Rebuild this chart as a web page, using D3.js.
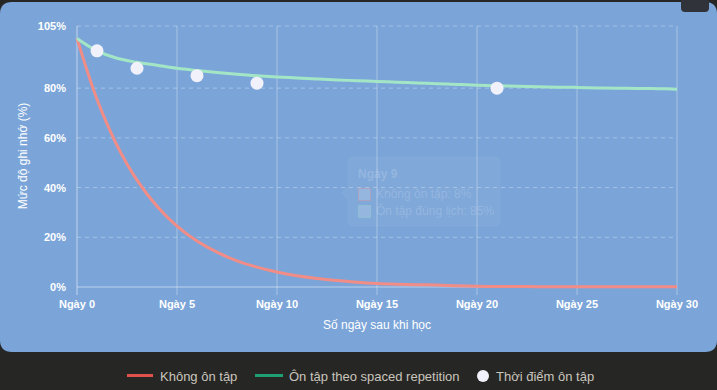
<!DOCTYPE html>
<html>
<head>
<meta charset="utf-8">
<script src="https://cdn.jsdelivr.net/npm/d3@7"></script>
<style>
  html, body { margin: 0; padding: 0; background: #262624; }
  svg { display: block; }
</style>
</head>
<body>
<svg id="chart" width="717" height="390"></svg>
<script>
// data
var days = d3.range(0, 31);
var noReview = [100, 75.5, 57, 43, 32.5, 24.5, 18.5, 14, 10.5, 8, 6, 4.5, 3.4, 2.6, 1.9, 1.4,
    1.1, 0.9, 0.8, 0.5, 0.3, 0.2, 0.2, 0.15, 0.1, 0.1, 0.1, 0.1, 0.1, 0.1, 0.1];
var spaced = [100, 95, 92, 90.4, 89.2, 88, 87.1, 86.3, 85.6, 85, 84.5, 84.1, 83.7, 83.3, 83,
    82.7, 82.4, 82.1, 81.8, 81.5, 81.2, 81, 80.8, 80.6, 80.4, 80.3, 80.1, 80, 79.9, 79.8, 79.6];
var reviewDays = [1, 3, 6, 9, 21];
var reviewValues = [95, 88, 85, 82, 80];
var xTicks = [0, 5, 10, 15, 20, 25, 30];
var yTicks = [0, 20, 40, 60, 80, 105];
var legendItems = ['Không ôn tập', 'Ôn tập theo spaced repetition', 'Thời điểm ôn tập'];

var svg = d3.select('#chart');
var font = 'Liberation Sans, Arial, Helvetica, sans-serif';

// panel
svg.append('rect')
    .attr('x', 0).attr('y', 0).attr('width', 717).attr('height', 390)
    .attr('fill', '#262624');
svg.append('path')
    .attr('d', 'M0,14 Q0,2 12,2 L705,2 Q717,2 717,14 L717,340 Q717,352 705,352 L12,352 Q0,352 0,340 Z')
    .attr('fill', '#7ba5d8');
svg.append('path')
    .attr('d', 'M681,0 L709,0 L709,8 Q709,12 705,12 L685,12 Q681,12 681,8 Z')
    .attr('fill', '#30343a');

var x = d3.scaleLinear().domain([0, 30]).range([77, 677]);
var y = d3.scaleLinear().domain([0, 105]).range([287, 26]);

var grid = svg.append('g');
grid.selectAll('line.v')
    .data(xTicks)
    .enter()
    .append('line')
    .attr('x1', d => x(d)).attr('x2', d => x(d))
    .attr('y1', y(105)).attr('y2', y(0) + 8)
    .attr('stroke', d => d === 0 ? 'rgba(255,255,255,0.55)' : 'rgba(255,255,255,0.35)')
    .attr('stroke-width', 1);
grid.selectAll('line.h')
    .data(yTicks)
    .enter()
    .append('line')
    .attr('x1', x(0)).attr('x2', x(30))
    .attr('y1', d => y(d)).attr('y2', d => y(d))
    .attr('stroke', d => d === 0 ? 'rgba(255,255,255,0.5)' : 'rgba(255,255,255,0.32)')
    .attr('stroke-dasharray', d => d === 0 ? null : '4,4')
    .attr('stroke-width', 1);

// tick labels
svg.append('g').selectAll('text')
    .data(yTicks)
    .enter()
    .append('text')
    .attr('x', 66)
    .attr('y', d => y(d) + 4)
    .attr('text-anchor', 'end')
    .attr('font-family', font)
    .attr('font-weight', 'bold')
    .attr('font-size', 11)
    .attr('fill', '#fff')
    .text(d => d + '%');
svg.append('g').selectAll('text')
    .data(xTicks)
    .enter()
    .append('text')
    .attr('x', d => x(d))
    .attr('y', 308)
    .attr('text-anchor', 'middle')
    .attr('font-family', font)
    .attr('font-weight', 'bold')
    .attr('font-size', 11)
    .attr('fill', '#fff')
    .text(d => 'Ngày ' + d);

// axis titles
svg.append('text')
    .attr('x', 377).attr('y', 329)
    .attr('text-anchor', 'middle')
    .attr('font-family', font)
    .attr('font-size', 12)
    .attr('fill', '#fff')
    .text('Số ngày sau khi học');
svg.append('text')
    .attr('transform', 'translate(27,156) rotate(-90)')
    .attr('text-anchor', 'middle')
    .attr('font-family', font)
    .attr('font-size', 12)
    .attr('fill', '#fff')
    .text('Mức độ ghi nhớ (%)');

// lines
var line = d3.line()
    .x((d, i) => x(days[i]))
    .y(d => y(d))
    .curve(d3.curveCatmullRom.alpha(0.5));

svg.append('path')
    .datum(noReview)
    .attr('d', line)
    .attr('fill', 'none')
    .attr('stroke', '#f28c86')
    .attr('stroke-width', 3);
svg.append('path')
    .datum(spaced)
    .attr('d', line)
    .attr('fill', 'none')
    .attr('stroke', '#a3e6c6')
    .attr('stroke-width', 3);

svg.append('g').selectAll('circle')
    .data(reviewDays)
    .enter()
    .append('circle')
    .attr('cx', d => x(d))
    .attr('cy', (d, i) => y(reviewValues[i]))
    .attr('r', 6.5)
    .attr('fill', '#f1f1fb');

// faded tooltip
var tip = svg.append('g').attr('opacity', 0.9);
tip.append('path')
    .attr('d', 'M354,157 L494,157 Q500,157 500,163 L500,220 Q500,226 494,226 L354,226 Q348,226 348,220 L348,199 L342,193 L348,187 L348,163 Q348,157 354,157 Z')
    .attr('fill', 'rgba(255,255,255,0.05)')
    .attr('stroke', 'rgba(255,255,255,0.06)');
tip.append('text')
    .attr('x', 358).attr('y', 178)
    .attr('font-family', font).attr('font-weight', 'bold').attr('font-size', 12)
    .attr('fill', 'rgba(255,255,255,0.2)')
    .text('Ngày ' + days[9]);
var tipRows = [
    ['Không ôn tập: ' + noReview[9] + '%', 'rgba(242,140,134,0.35)'],
    ['Ôn tập đúng lịch: ' + spaced[9] + '%', 'rgba(163,230,198,0.3)']
];
tipRows.forEach(function (r, i) {
    tip.append('rect')
        .attr('x', 358.5).attr('y', 188.5 + i * 17)
        .attr('width', 12).attr('height', 12)
        .attr('fill', 'rgba(255,255,255,0.18)')
        .attr('stroke', r[1]);
    tip.append('text')
        .attr('x', 376).attr('y', 198 + i * 17)
        .attr('font-family', font).attr('font-size', 12)
        .attr('fill', 'rgba(255,255,255,0.2)')
        .text(r[0]);
});

// legend
var lg = svg.append('g').attr('font-family', font).attr('font-size', 13);
lg.append('rect').attr('x', 127).attr('y', 374).attr('width', 26).attr('height', 3).attr('fill', '#e0524b');
lg.append('text').attr('x', 160).attr('y', 381).attr('fill', '#c9c5bd').text(legendItems[0]);
lg.append('rect').attr('x', 255).attr('y', 374).attr('width', 28).attr('height', 3).attr('fill', '#1e9e73');
lg.append('text').attr('x', 289).attr('y', 381).attr('fill', '#c9c5bd').text(legendItems[1]);
lg.append('circle').attr('cx', 483).attr('cy', 376).attr('r', 6).attr('fill', '#f1f1fb');
lg.append('text').attr('x', 496).attr('y', 381).attr('fill', '#c9c5bd').text(legendItems[2]);
</script>
</body>
</html>
